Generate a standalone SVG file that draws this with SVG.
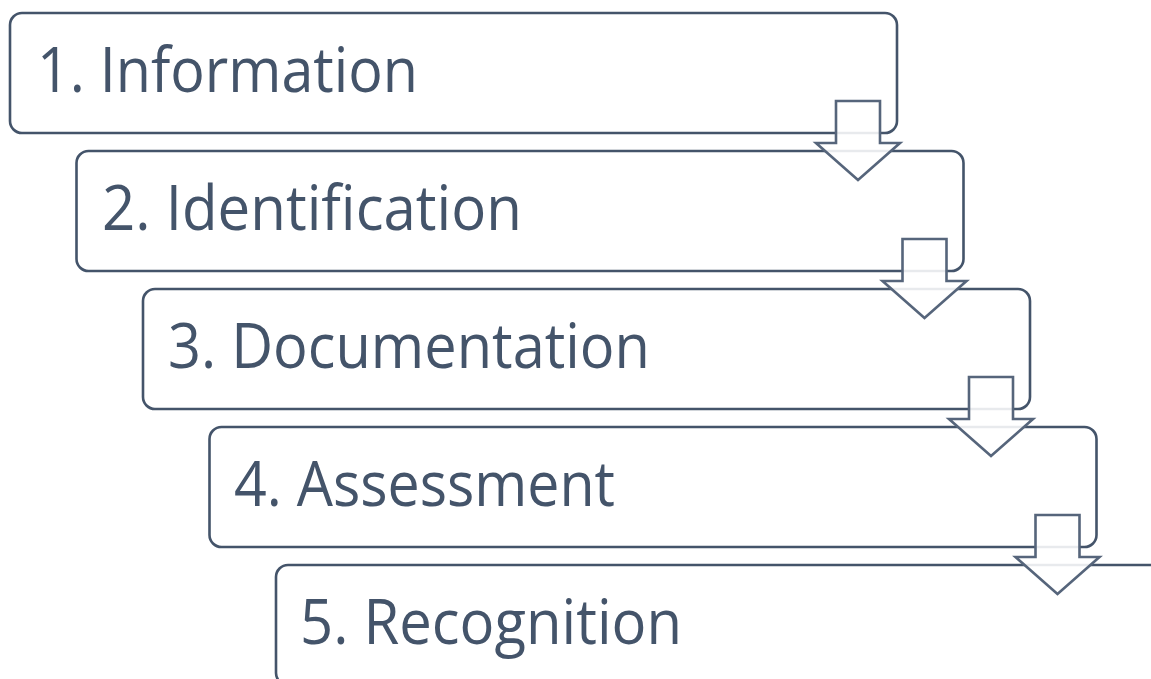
<svg xmlns="http://www.w3.org/2000/svg" width="1151" height="679" viewBox="0 0 1151 679">
<style>
.box{fill:#ffffff;stroke:#44546a;stroke-width:2.6}
.lbl{font-family:"Open Sans","Noto Sans",sans-serif;font-size:62px;fill:#44546a}
.arr{fill:#ffffff;fill-opacity:0.88;stroke:#56657b;stroke-width:2.6;stroke-linejoin:miter}
</style>
<defs>
<path id="arrow" d="M836,101 H880 V143 H900 L858,180 L816,143 H836 Z"/>
</defs>
<g id="node1"><rect class="box" x="10" y="13" width="887" height="120" rx="12"/><text class="lbl" x="37" y="92" textLength="381" lengthAdjust="spacingAndGlyphs">1. Information</text></g>
<g id="node2"><rect class="box" x="76.5" y="151" width="887" height="120" rx="12"/><text class="lbl" x="102" y="230" textLength="420" lengthAdjust="spacingAndGlyphs">2. Identification</text></g>
<g id="node3"><rect class="box" x="143" y="289" width="887" height="120" rx="12"/><text class="lbl" x="168" y="368" textLength="482" lengthAdjust="spacingAndGlyphs">3. Documentation</text></g>
<g id="node4"><rect class="box" x="209.5" y="427" width="887" height="120" rx="12"/><text class="lbl" x="234" y="506" textLength="381" lengthAdjust="spacingAndGlyphs">4. Assessment</text></g>
<g id="node5"><rect class="box" x="276" y="565" width="887" height="120" rx="12"/><text class="lbl" x="300" y="644" textLength="382" lengthAdjust="spacingAndGlyphs">5. Recognition</text></g>
<g id="connectors">
<use href="#arrow" class="arr"/>
<use href="#arrow" class="arr" transform="translate(66.5,138)"/>
<use href="#arrow" class="arr" transform="translate(133,276)"/>
<use href="#arrow" class="arr" transform="translate(199.5,414)"/>
</g>
</svg>
